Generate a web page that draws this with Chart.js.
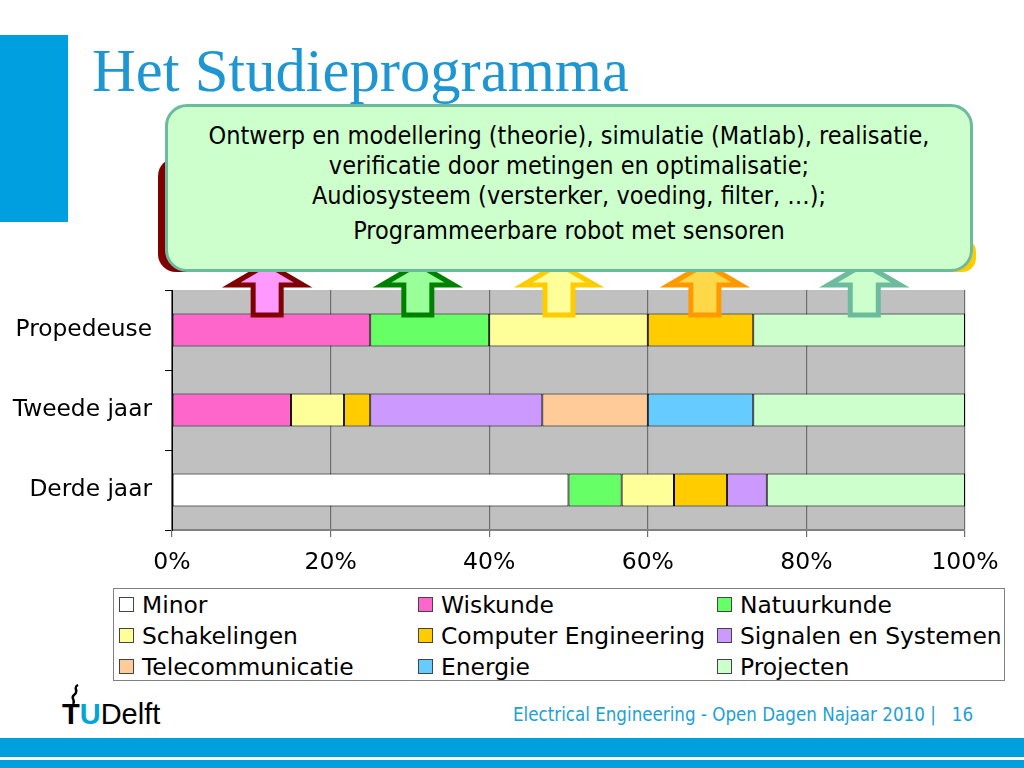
<!DOCTYPE html>
<html>
<head>
<meta charset="utf-8">
<script src="https://cdn.jsdelivr.net/npm/chart.js@4"></script>
<style>
  body { margin: 0; width: 1024px; height: 768px; background: #fff; position: relative; overflow: hidden; font-family: "DejaVu Sans", sans-serif; }
  .abs { position: absolute; }
  #sidebar { left: 0; top: 35px; width: 68px; height: 187px; background: #009FDF; }
  #title { left: 92px; top: 36px; font-family: "Liberation Serif", serif; font-size: 60.6px; color: #1E96D2; line-height: 70px; white-space: nowrap; }
  #back1 { left: 158px; top: 158px; width: 320px; height: 114px; background: #800000; border-radius: 18px; }
  #back2 { left: 700px; top: 238px; width: 276px; height: 34px; background: #FFCC00; border-radius: 14px; }
  #callout { left: 165px; top: 104px; width: 802px; height: 162px; background: #CCFFCC; border: 3px solid #6DBB9F; border-radius: 22px; z-index: 5;
    text-align: center; font-family: "DejaVu Sans Condensed", "DejaVu Sans", sans-serif; font-stretch: condensed; font-size: 25px; line-height: 30px; color: #000; box-sizing: content-box; }
  #callout .txt { padding-top: 14px; }
  #chartbox { left: 0; top: 260px; width: 1024px; height: 320px; z-index: 2; }
  #legend { left: 113px; top: 588px; width: 892px; height: 93px; border: 1px solid #808080; display: grid; grid-template-columns: 299px 299px 292px; grid-auto-rows: 31px; padding-left: 5px; box-sizing: border-box; }
  .li { display: flex; align-items: center; font-size: 23.4px; white-space: nowrap; color: #000; }
  .sw { width: 13px; height: 13px; border: 1px solid #444; margin-right: 8px; flex: none; }
  #logo { left: 62px; top: 690px; font-family: "Liberation Sans", sans-serif; font-size: 29px; line-height: 48px; color: #000; }
  #logo .u { color: #00A6D6; font-weight: bold; }
  #logo .t { font-weight: bold; }
  #foot { left: 513px; top: 704px; font-family: "DejaVu Sans Condensed", "DejaVu Sans", sans-serif; font-stretch: condensed; font-size: 18.6px; color: #1E9FD8; white-space: nowrap; }
  #band1 { left: 0; top: 738px; width: 1024px; height: 19px; background: #00A0DF; }
  #band2 { left: 0; top: 760px; width: 1024px; height: 8px; background: #00A0DF; }
</style>
</head>
<body>
<div id="sidebar" class="abs"></div>
<div id="title" class="abs">Het Studieprogramma</div>
<div id="back1" class="abs"></div>
<div id="back2" class="abs"></div>
<div id="callout" class="abs"><div class="txt">
  Ontwerp en modellering (theorie), simulatie (Matlab), realisatie,<br>
  verificatie door metingen en optimalisatie;<br>
  Audiosysteem (versterker, voeding, filter, …);<br>
  <div style="margin-top:5px">Programmeerbare robot met sensoren</div>
</div></div>
<div id="chartbox" class="abs"><canvas id="studie"></canvas></div>
<div id="legend" class="abs"></div>
<div id="logo" class="abs"><svg width="20" height="22" style="position:absolute;left:3px;top:-6px" viewBox="0 0 20 22"><path d="M13 1 C7 4 15 7 9 11 C5 14 11 16 8 20" stroke="#000" stroke-width="2.5" fill="none"/></svg><span class="t">T</span><span class="u">U</span>Delft</div>
<div id="foot" class="abs">Electrical Engineering - Open Dagen Najaar 2010 |&nbsp;&nbsp; 16</div>
<div id="band1" class="abs"></div>
<div id="band2" class="abs"></div>

<script>
var years = ['Propedeuse', 'Tweede jaar', 'Derde jaar'];
var xTicks = [0, 20, 40, 60, 80, 100];

// percent of each year
var minor          = [null, null, 50];
var wiskunde       = [25, 15, null];
var natuurkunde    = [15, null, 6.7];
var schakelingen   = [20, 6.7, 6.6];
var computerEng    = [13.3, 3.3, 6.7];
var signalen       = [null, 21.7, 5];
var telecom        = [null, 13.3, null];
var energie        = [null, 13.3, null];
var projecten      = [26.7, 26.7, 25];

// arrows under the callout, placed on the percent axis
var arrowPos    = [12, 31, 48.8, 67.2, 87.3];
var arrowFill   = ['#FF99FF', '#99FF99', '#FFFF99', '#FFD84A', '#CCFFCC'];
var arrowStroke = ['#800000', '#008000', '#FFCC00', '#FF9900', '#6DBB9F'];

var series = [
    { label: 'Minor', data: minor, color: '#FFFFFF' },
    { label: 'Wiskunde', data: wiskunde, color: '#FF66CC' },
    { label: 'Natuurkunde', data: natuurkunde, color: '#66FF66' },
    { label: 'Schakelingen', data: schakelingen, color: '#FFFF99' },
    { label: 'Computer Engineering', data: computerEng, color: '#FFCC00' },
    { label: 'Signalen en Systemen', data: signalen, color: '#CC99FF' },
    { label: 'Telecommunicatie', data: telecom, color: '#FFCC99' },
    { label: 'Energie', data: energie, color: '#66CCFF' },
    { label: 'Projecten', data: projecten, color: '#CCFFCC' }
];

var plotBg = {
    id: 'plotBg',
    beforeDraw: function(chart) {
        var a = chart.chartArea, c = chart.ctx;
        c.save();
        c.fillStyle = '#C0C0C0';
        c.fillRect(a.left, a.top, a.right - a.left, a.bottom - a.top);
        c.restore();
    }
};

var arrows = {
    id: 'arrows',
    afterDatasetsDraw: function(chart) {
        var c = chart.ctx, top = chart.chartArea.top, xs = chart.scales.x;
        arrowPos.forEach(function(p, i) {
            var cx = xs.getPixelForValue(p);
            c.save();
            c.beginPath();
            c.moveTo(cx - 14, top + 25);
            c.lineTo(cx - 14, top - 5);
            c.lineTo(cx - 36, top - 5);
            c.lineTo(cx, top - 26);
            c.lineTo(cx + 36, top - 5);
            c.lineTo(cx + 14, top - 5);
            c.lineTo(cx + 14, top + 25);
            c.closePath();
            c.fillStyle = arrowFill[i];
            c.fill();
            c.lineWidth = 5;
            c.lineJoin = 'miter';
            c.strokeStyle = arrowStroke[i];
            c.stroke();
            c.restore();
        });
    }
};

var ctx = document.getElementById('studie');
var myChart = new Chart(ctx, {
    type: 'bar',
    data: {
        labels: years,
        datasets: series.map(function(s) {
            return {
                label: s.label,
                data: s.data,
                backgroundColor: s.color,
                borderColor: '#000000',
                borderWidth: 1,
                borderSkipped: false,
                barPercentage: 0.41,
                categoryPercentage: 1
            };
        })
    },
    options: {
        indexAxis: 'y',
        responsive: true,
        maintainAspectRatio: false,
        animation: false,
        layout: { padding: { top: 30, right: 59, left: 0, bottom: 0 } },
        plugins: { legend: { display: false }, tooltip: { enabled: false } },
        scales: {
            x: {
                stacked: true,
                min: 0,
                max: 100,
                afterBuildTicks: function(scale) {
                    scale.ticks = xTicks.map(function(v) { return { value: v }; });
                },
                afterFit: function(scale) { scale.height = 50; },
                ticks: {
                    color: '#000',
                    font: { family: 'DejaVu Sans', size: 23.5 },
                    padding: 12,
                    callback: function(v) { return v + '%'; }
                },
                grid: { color: '#6E6E6E', lineWidth: 1.2, tickLength: 7, tickColor: '#6E6E6E' },
                border: { color: '#808080', width: 2 }
            },
            y: {
                stacked: true,
                offset: true,
                afterFit: function(scale) { scale.width = 172; },
                ticks: {
                    color: '#000',
                    font: { family: 'DejaVu Sans', size: 23.3 },
                    padding: 13
                },
                grid: { offset: true, drawOnChartArea: false, tickLength: 7, color: '#000' },
                border: { color: '#000', width: 1 }
            }
        }
    },
    plugins: [plotBg, arrows]
});

// html legend, three columns like the slide
var legend = document.getElementById('legend');
series.forEach(function(s) {
    var item = document.createElement('div');
    item.className = 'li';
    item.innerHTML = '<span class="sw" style="background:' + s.color + '"></span>' + s.label;
    legend.appendChild(item);
});
</script>
</body>
</html>
